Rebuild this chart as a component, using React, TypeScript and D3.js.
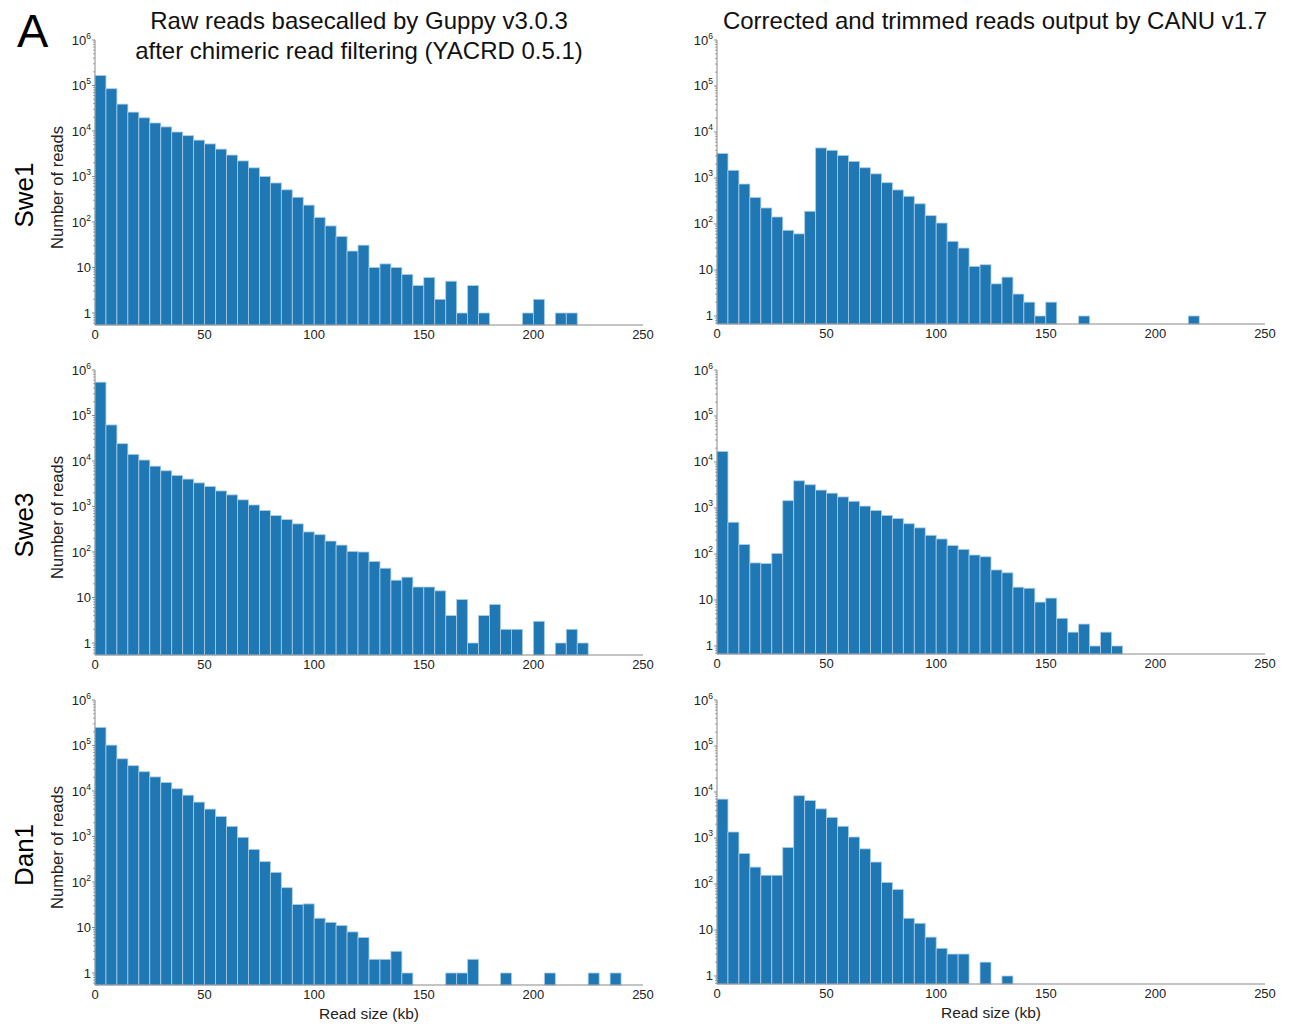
import React from "react";
import * as d3 from "d3";

// Bin start positions (kb), 5-kb-wide bins
const BIN_STARTS = [0,5,10,15,20,25,30,35,40,45,50,55,60,65,70,75,80,85,90,95,100,105,110,115,120,125,130,135,140,145,150,155,160,165,170,175,180,185,190,195,200,205,210,215,220,225,230,235,240,245];
const BIN_WIDTH = 5;

const SWE1_RAW = [166000,85000,39000,26000,19500,15000,12300,9500,7900,6300,5200,4000,2960,2200,1550,1000,720,510,350,235,126,82,48,23,31,10,12,10,7,4,6,2,5,1,4,1,0,0,0,1,2,0,1,1,0,0,0,0,0,0];
const SWE1_CANU = [3400,1470,740,375,223,142,73,61,189,4500,4000,3100,2300,1670,1230,790,550,400,275,152,105,42,30,12,13,5,7,3,2,1,2,0,0,1,0,0,0,0,0,0,0,0,0,1,0,0,0,0,0,0];
const SWE3_RAW = [540000,62000,24000,14000,10500,7700,6100,4800,4000,3300,2750,2200,1800,1400,1080,815,630,515,415,276,240,174,142,103,100,62,44,24,28,17,17,14,4,9,1,4,7,2,2,0,3,0,1,2,1,0,0,0,0,0];
const SWE3_CANU = [17000,490,160,64,62,103,1440,3900,3200,2450,2100,1740,1400,1100,880,690,590,455,370,255,212,152,126,95,87,45,39,19,18,9,11,4,2,3,1,2,1,0,0,0,0,0,0,0,0,0,0,0,0,0];
const DAN1_RAW = [250000,102000,51000,36000,26500,20400,15300,11200,8100,5700,4000,2750,1670,960,520,280,163,75,32,33,16,13,11,8,6,2,2,3,1,0,0,0,1,1,2,0,0,1,0,0,0,1,0,0,0,1,0,1,0,0];
const DAN1_CANU = [7000,1350,460,233,155,155,620,8300,6500,4300,2800,1800,1050,580,300,108,76,18,14,7,4,3,3,0,2,0,1,0,0,0,0,0,0,0,0,0,0,0,0,0,0,0,0,0,0,0,0,0,0,0];

const SAMPLES = ["Swe1", "Swe3", "Dan1"];
const RAW_SERIES = [SWE1_RAW, SWE3_RAW, DAN1_RAW];
const CANU_SERIES = [SWE1_CANU, SWE3_CANU, DAN1_CANU];
const X_TICKS = [0, 50, 100, 150, 200, 250];
const Y_TICK_EXP = [0, 1, 2, 3, 4, 5, 6];
const SUP = ["", "", "2", "3", "4", "5", "6"];

const FONT = "'Liberation Sans', Arial, Helvetica, sans-serif";
const BAR_FILL = "#1f77b4";
const BAR_STROKE = "#a9cde8";
const AXIS_COLOR = "#8a8a8a";

type PanelProps = {
  x0: number; x1: number; top: number; bottom: number; ymin: number;
  counts: number[]; showYTitle: boolean; showXTitle: boolean;
};

function Panel({ x0, x1, top, bottom, ymin, counts, showYTitle, showXTitle }: PanelProps) {
  const xs = d3.scaleLinear().domain([0, 250]).range([x0, x1]);
  const ys = d3.scaleLog().domain([ymin, 1e6]).range([bottom, top]);
  const minor: number[] = [];
  for (let k = -1; k <= 5; k++) {
    for (let m = 2; m <= 9; m++) {
      const v = m * Math.pow(10, k);
      if (v >= ymin && v <= 1e6) minor.push(v);
    }
  }
  return (
    <g>
      {BIN_STARTS.map((s, i) => {
        const c = counts[i];
        if (!c) return null;
        const xa = xs(s), xb = xs(s + BIN_WIDTH);
        const y = ys(c);
        return (
          <rect key={i} x={xa} y={y} width={xb - xa} height={bottom - y}
            fill={BAR_FILL} stroke={BAR_STROKE} strokeWidth={0.8} />
        );
      })}
      {/* y axis */}
      <line x1={x0} x2={x0} y1={top} y2={bottom} stroke={AXIS_COLOR} strokeWidth={1} />
      {minor.map((v, i) => (
        <line key={"m" + i} x1={x0 - 2} x2={x0} y1={ys(v)} y2={ys(v)} stroke={AXIS_COLOR} strokeWidth={0.8} />
      ))}
      {Y_TICK_EXP.map((e) => {
        const y = ys(Math.pow(10, e));
        return (
          <g key={"y" + e}>
            <line x1={x0 - 3} x2={x0} y1={y} y2={y} stroke={AXIS_COLOR} strokeWidth={1} />
            <text x={x0 - 4} y={y + 4.5} textAnchor="end" fontFamily={FONT} fontSize={13} fill="#222">
              {e === 0 ? "1" : e === 1 ? "10" : (
                <>
                  <tspan>10</tspan>
                  <tspan fontSize={8.5} dy={-6}>{SUP[e]}</tspan>
                </>
              )}
            </text>
          </g>
        );
      })}
      {/* x axis */}
      <line x1={x0} x2={x1} y1={bottom} y2={bottom} stroke={AXIS_COLOR} strokeWidth={1.2} />
      {X_TICKS.map((t) => (
        <text key={"x" + t} x={xs(t)} y={bottom + 14} textAnchor="middle" fontFamily={FONT} fontSize={13} fill="#222">
          {t}
        </text>
      ))}
      {showYTitle && (
        <text transform={`translate(${x0 - 32},${top + 147.5}) rotate(-90)`} textAnchor="middle"
          fontFamily={FONT} fontSize={16.5} fill="#222">Number of reads</text>
      )}
      {showXTitle && (
        <text x={(x0 + x1) / 2} y={bottom + 34} textAnchor="middle" fontFamily={FONT} fontSize={15.5} fill="#222">
          Read size (kb)
        </text>
      )}
    </g>
  );
}

export default function App() {
  const rowOffset = 330;
  return (
    <svg width={1292} height={1026} style={{ position: "absolute", left: 0, top: 0, background: "#fff" }}>
      <text x={17} y={47} fontFamily={FONT} fontSize={47} fill="#000">A</text>
      <text x={359} y={29} textAnchor="middle" fontFamily={FONT} fontSize={24} fill="#111">
        Raw reads basecalled by Guppy v3.0.3
      </text>
      <text x={359} y={59} textAnchor="middle" fontFamily={FONT} fontSize={24} fill="#111">
        after chimeric read filtering (YACRD 0.5.1)
      </text>
      <text x={995} y={29} textAnchor="middle" fontFamily={FONT} fontSize={24} fill="#111">
        Corrected and trimmed reads output by CANU v1.7
      </text>
      {SAMPLES.map((name, r) => {
        const off = r * rowOffset;
        return (
          <g key={name}>
            <text transform={`translate(33,${195 + off}) rotate(-90)`} textAnchor="middle"
              fontFamily={FONT} fontSize={26} fill="#000">{name}</text>
            <Panel x0={95} x1={643} top={40 + off} bottom={325 + off} ymin={0.545}
              counts={RAW_SERIES[r]} showYTitle={true} showXTitle={r === 2} />
            <Panel x0={717} x1={1265} top={40 + off} bottom={324 + off} ymin={0.67}
              counts={CANU_SERIES[r]} showYTitle={false} showXTitle={r === 2} />
          </g>
        );
      })}
    </svg>
  );
}
